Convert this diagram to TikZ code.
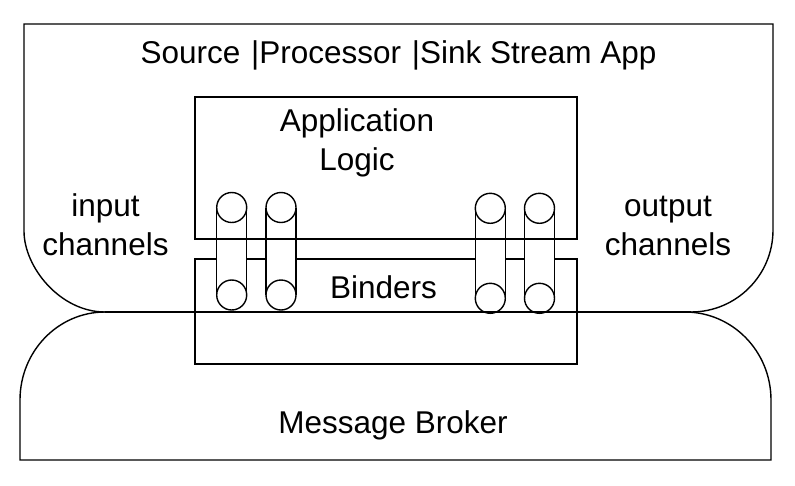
\documentclass[tikz,border=0pt]{standalone}
\usepackage{fontspec}
\setmainfont{Liberation Sans}
\begin{document}
\begin{tikzpicture}[x=1pt,y=-1pt,line width=1.4pt,
  lbl/.style={inner sep=0pt,font=\fontsize{31.5}{38.3}\selectfont,align=center},
  boxline/.style={draw=black}]
\useasboundingbox (0,0) rectangle (795,485);
% top app shape
\draw (24,24) -- (773,24) -- (773,230)
  .. controls (773,275.3) and (736.3,312) .. (691,312)
  -- (105,312) .. controls (60.3,312) and (24,267.3) .. (24,231) -- cycle;
% bottom broker shape
\draw (105,312) .. controls (58,312) and (20,351.4) .. (20,400)
  -- (20,460) -- (771,460) -- (771,400)
  .. controls (771,351.4) and (732.5,312) .. (685,312);
% binders box
\draw[boxline] (195,259) rectangle (577,364);
% cylinders
\foreach \cx/\ty/\by [count=\i] in {231.7/207.5/295, 281/207.5/295, 490.3/208.3/298.3, 539.5/208.3/298.3}{
  \fill[white] (\cx-15,\ty) rectangle (\cx+15,\by);
  \draw (\cx-15,\ty) -- (\cx-15,\by);
  \draw (\cx+15,\ty) -- (\cx+15,\by);
  \draw[fill=white] (\cx,\ty) circle[radius=15];
  \draw[fill=white] (\cx,\by) circle[radius=15];
}
% application logic box
\draw[boxline] (195,97) rectangle (577,239);
% boundary line
\draw (105,312) -- (691,312);
% texts
\node[lbl,anchor=base] (title) at (398.5,63.3) {Source\hspace{2pt} |Processor\hspace{2pt} |Sink Stream App};
\node[lbl,anchor=base] (app) at (357,170) {Application\\Logic};
\node[lbl,anchor=base] (in) at (105.5,255) {input\\channels};
\node[lbl,anchor=base] (out) at (668,255) {output\\channels};
\node[lbl,anchor=base] (bind) at (383.5,298.3) {Binders};
\node[lbl,anchor=base] (broker) at (393,433.3) {Message Broker};
\end{tikzpicture}
\end{document}
